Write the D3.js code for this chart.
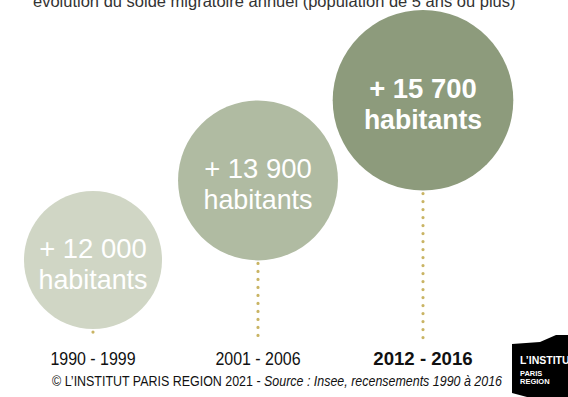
<!DOCTYPE html>
<html>
<head>
<meta charset="utf-8">
<script src="https://cdn.jsdelivr.net/npm/d3@7"></script>
<style>
  html, body { margin: 0; padding: 0; background: #fff; }
  svg { display: block; }
  text { font-family: "Liberation Sans", Arial, Helvetica, sans-serif; }
</style>
</head>
<body>
<script>
// Annual net migration per census period
const periods = ["1990 - 1999", "2001 - 2006", "2012 - 2016"];
const values = [12000, 13900, 15700];
const valueLabels = ["+ 12 000", "+ 13 900", "+ 15 700"];
const unitLabel = "habitants";
const fills = ["#d0d6c5", "#b0bba2", "#8d9b7c"];
const boldFlags = [false, false, true];

const title = "évolution du solde migratoire annuel (population de 5 ans ou plus)";
const credit = "© L’INSTITUT PARIS REGION 2021 - ";
const source = "Source : Insee, recensements 1990 à 2016";

const W = 568, H = 397;

const svg = d3.select("body").append("svg")
  .attr("width", W).attr("height", H);

// Narrow the glyphs of a text selection by a horizontal factor
function condense(sel, factor) {
  sel.each(function () {
    const w = this.getComputedTextLength();
    d3.select(this)
      .attr("textLength", w * (typeof factor === "function" ? factor(d3.select(this).datum()) : factor))
      .attr("lengthAdjust", "spacingAndGlyphs");
  });
}

// Scales: circle radius grows linearly with the value
const rScale = d3.scaleLinear().domain([0, d3.max(values)]).range([0, 90.3]);
const xScale = d3.scalePoint().domain(periods).range([93, 423]);
const topScale = d3.scalePoint().domain(periods).range([191, 10]);

const data = periods.map((p, i) => ({
  period: p, value: values[i], label: valueLabels[i], fill: fills[i], bold: boldFlags[i]
}));
data.forEach(d => {
  d.r = rScale(d.value);
  d.cx = xScale(d.period);
  d.cy = topScale(d.period) + d.r;
});

// Title (partly above the frame)
svg.append("text")
  .attr("x", 33).attr("y", 6.5)
  .attr("font-size", 16.5)
  .attr("fill", "#333")
  .text(title);

// Dotted stems below each bubble
svg.append("g").selectAll("line").data(data).join("line")
  .attr("x1", d => d.cx).attr("x2", d => d.cx)
  .attr("y1", d => d.cy + d.r + 3)
  .attr("y2", 340)
  .attr("stroke", "#c9b464")
  .attr("stroke-width", 3.2)
  .attr("stroke-linecap", "round")
  .attr("stroke-dasharray", "0 8");

// Bubbles
svg.append("g").selectAll("circle").data(data).join("circle")
  .attr("cx", d => d.cx).attr("cy", d => d.cy).attr("r", d => d.r)
  .attr("fill", d => d.fill);

// Bubble labels: value on the first line, unit on the second
const bubbleText = svg.append("g");
const valueText = bubbleText.selectAll("text.value").data(data).join("text")
  .attr("class", "value")
  .attr("x", d => d.cx).attr("y", d => d.cy - 2)
  .attr("text-anchor", "middle")
  .attr("fill", "#fff")
  .attr("font-size", 28)
  .attr("font-weight", d => d.bold ? 700 : 400)
  .text(d => d.label);
const unitText = bubbleText.selectAll("text.unit").data(data).join("text")
  .attr("class", "unit")
  .attr("x", d => d.cx).attr("y", d => d.cy + 29)
  .attr("text-anchor", "middle")
  .attr("fill", "#fff")
  .attr("font-size", 28)
  .attr("font-weight", d => d.bold ? 700 : 400)
  .text(unitLabel);
condense(valueText, 0.98);
condense(unitText, d => d.bold ? 0.95 : 0.96);

// Period labels
const periodText = svg.append("g").selectAll("text").data(data).join("text")
  .attr("x", d => d.cx).attr("y", 365)
  .attr("text-anchor", "middle")
  .attr("font-size", 19)
  .attr("font-weight", d => d.bold ? 700 : 400)
  .attr("fill", "#111")
  .text(d => d.period);
condense(periodText, d => d.bold ? 0.98 : 0.84);

// Source line
const src = svg.append("text")
  .attr("x", 52).attr("y", 386)
  .attr("font-size", 14)
  .attr("fill", "#111");
src.append("tspan").text(credit);
src.append("tspan").attr("font-style", "italic").text(source);
src.attr("textLength", 450).attr("lengthAdjust", "spacingAndGlyphs");

// Logo block
const logo = svg.append("g");
logo.append("path")
  .attr("d", d3.line()([[512, 344], [540, 342], [556, 335], [568, 335], [568, 397], [527, 397], [512, 393]]) + "Z")
  .attr("fill", "#000");
const logoLines = [
  { t: "L’INSTITUT", y: 364, size: 10.5 },
  { t: "PARIS", y: 375.5, size: 7.5 },
  { t: "REGION", y: 383.5, size: 7.5 }
];
logo.selectAll("text").data(logoLines).join("text")
  .attr("x", 520).attr("y", d => d.y)
  .attr("font-weight", 700).attr("font-size", d => d.size)
  .attr("fill", "#fff")
  .text(d => d.t);
</script>
</body>
</html>
